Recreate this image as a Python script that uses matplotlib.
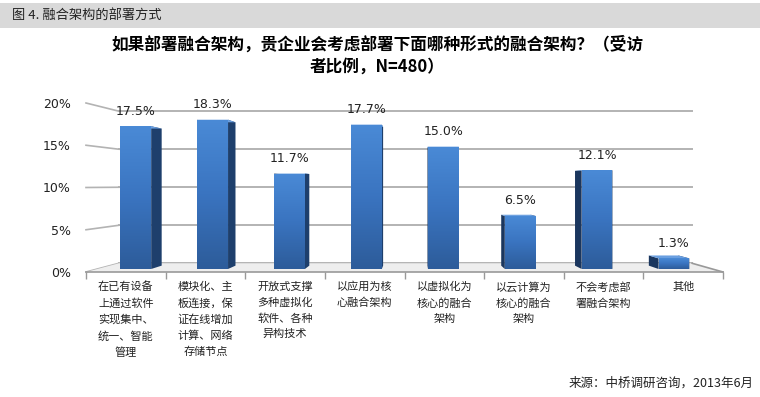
import numpy as np
import matplotlib.pyplot as plt
from matplotlib.patches import Polygon, Rectangle
from matplotlib.colors import LinearSegmentedColormap

plt.rcParams['font.family'] = ['Noto Sans CJK SC', 'DejaVu Sans']

header = '图 4. 融合架构的部署方式'
title = '如果部署融合架构，贵企业会考虑部署下面哪种形式的融合架构？（受访\n者比例，N=480）'
source = '来源：中桥调研咨询，2013年6月'

categories = ['在已有设备\n上通过软件\n实现集中、\n统一、智能\n管理',
              '模块化、主\n板连接，保\n证在线增加\n计算、网络\n存储节点',
              '开放式支撑\n多种虚拟化\n软件、各种\n异构技术',
              '以应用为核\n心融合架构',
              '以虚拟化为\n核心的融合\n架构',
              '以云计算为\n核心的融合\n架构',
              '不会考虑部\n署融合架构',
              '其他']
values = [17.5, 18.3, 11.7, 17.7, 15.0, 6.5, 12.1, 1.3]
yticks = [0, 5, 10, 15, 20]
ytick_labels = ['0%', '5%', '10%', '15%', '20%']

# fake 3d: vanishing point and depth factors (data coords of the front plane)
VX, VY = 3.63, 10.3
S_FRONT, S_BACK, S_WALL = 0.9655, 0.927, 0.9
HALF_W = 0.2
GRID = '#b3b3b3'


def proj(x, y, s):
    return VX + s * (x - VX), VY + s * (y - VY)


fig = plt.figure(figsize=(7.6, 3.97), dpi=100)
fig.patches.append(Rectangle((0, 1 - 28 / 397), 1, 25 / 397, transform=fig.transFigure,
                             facecolor='#d9d9d9', edgecolor='none'))
fig.text(12 / 760, 1 - 15.5 / 397, header, fontsize=9.5, style='italic', va='center', color='#222222')
fig.text(377 / 760, 1 - 36 / 397, title, ha='center', va='top', fontsize=12,
         fontweight='bold', linespacing=1.25)
fig.text(754 / 760, 1 - 383 / 397, source, ha='right', va='center', fontsize=9,
         style='italic', color='#222222')

ax = fig.add_axes([86 / 760, 125 / 397, 637 / 760, 169 / 397])
ax.patch.set_visible(False)

# back wall grid + left depth lines
xl, xr = -0.5, len(values) - 0.5
for v in yticks:
    wx0, wy = proj(xl, v, S_WALL)
    wx1, _ = proj(xr, v, S_WALL)
    ax.plot([wx0, wx1], [wy, wy], color=GRID, lw=1.4, zorder=1, clip_on=False)
    ax.plot([xl, wx0], [v, wy], color=GRID, lw=1.2, zorder=1, clip_on=False)

# floor
bl = proj(xl, 0, S_WALL)
br = proj(xr, 0, S_WALL)
ax.add_patch(Polygon([(xl, 0), (xr, 0), br, bl], closed=True, facecolor='#eeeeee',
                     edgecolor='none', zorder=1.5, clip_on=False))
ax.plot([br[0], xr], [br[1], 0], color='#999999', lw=1.2, zorder=1.6, clip_on=False)

cmap = LinearSegmentedColormap.from_list('bar', ['#2d5c9a', '#3a74c0', '#4a8ad6'])
grad = np.linspace(1, 0, 100).reshape(-1, 1)

for i, v in enumerate(values):
    x0, x1 = i - HALF_W, i + HALF_W
    f_bl = proj(x0, 0, S_FRONT); f_br = proj(x1, 0, S_FRONT)
    f_tl = proj(x0, v, S_FRONT); f_tr = proj(x1, v, S_FRONT)
    b_bl = proj(x0, 0, S_BACK); b_br = proj(x1, 0, S_BACK)
    b_tl = proj(x0, v, S_BACK); b_tr = proj(x1, v, S_BACK)
    # sides and top
    ax.add_patch(Polygon([f_br, b_br, b_tr, f_tr], facecolor='#1e3f6c', edgecolor='none', zorder=3))
    ax.add_patch(Polygon([f_bl, b_bl, b_tl, f_tl], facecolor='#1a365e', edgecolor='none', zorder=3))
    ax.add_patch(Polygon([f_tl, f_tr, b_tr, b_tl], facecolor='#6a9fe0', edgecolor='none', zorder=3.1))
    # front face with gradient
    face = Polygon([f_bl, f_br, f_tr, f_tl], facecolor='none', edgecolor='none', zorder=4)
    ax.add_patch(face)
    im = ax.imshow(grad, cmap=cmap, aspect='auto', zorder=4,
                   extent=[f_bl[0], f_br[0], f_bl[1], f_tl[1]])
    im.set_clip_path(face)
    ax.text((f_tl[0] + f_tr[0]) / 2, f_tl[1] + 1.8, f'{v:.1f}%', ha='center', va='center',
            fontsize=9, family='DejaVu Sans', color='#222222', zorder=5)

ax.set_xlim(xl, xr)
ax.set_ylim(0, 20)

for side in ['left', 'top', 'right']:
    ax.spines[side].set_visible(False)
ax.spines['bottom'].set_color('#999999')
ax.spines['bottom'].set_linewidth(1.2)
ax.spines['bottom'].set_zorder(2)

ax.set_yticks(yticks)
ax.set_yticklabels(ytick_labels, family='DejaVu Sans', fontsize=9, color='#222222')
ax.tick_params(axis='y', length=0, pad=11)
ax.set_xticks(range(len(categories)))
ax.set_xticklabels(categories, fontsize=8, color='#222222')
ax.set_xticks(np.arange(-0.5, len(categories)), minor=True)
ax.tick_params(axis='x', which='major', length=0, pad=7)
ax.tick_params(axis='x', which='minor', length=5, color='#999999', width=1)
for t in ax.get_xticklabels():
    t.set_linespacing(1.65)

fig.savefig('out.png', dpi=100)
